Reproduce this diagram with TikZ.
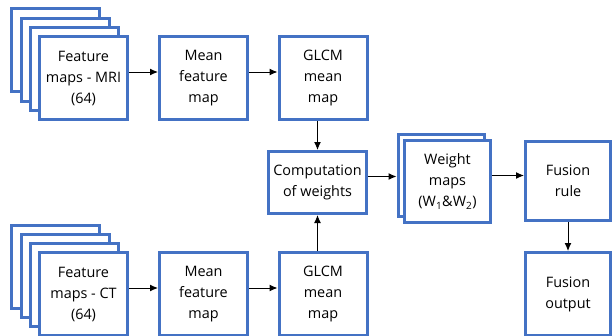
\documentclass[tikz,border=0pt]{standalone}
\usepackage{fontspec}
\setmainfont{Open Sans}
\usetikzlibrary{arrows.meta}
\definecolor{boxblue}{HTML}{4472C4}

\begin{document}
\begin{tikzpicture}[x=1pt, y=-1pt,
  box/.style={draw=boxblue, line width=3pt, fill=white, align=center, inner sep=0pt,
    font=\fontsize{14.4}{21}\selectfont},
  fmap/.style={box, minimum width=88pt, minimum height=83pt},
  arr/.style={-{Latex[length=8pt, width=7pt]}, line width=1pt}]
\useasboundingbox (0,0) rectangle (613,335);
\clip (0,0) rectangle (613,335);

\node[fmap] (mri3) at (55.5,50) {};
\node[fmap] (mri2) at (65,59.5) {};
\node[fmap] (mri1) at (74.5,69) {};
\node[fmap] (mri) at (83.5,78) {Feature\\maps - MRI\\(64)};
\node[fmap] (meanA) at (203.5,78) {Mean\\feature\\map};
\node[fmap] (glcmA) at (323,78) {GLCM\\mean\\map};

\node[box, minimum width=98pt, minimum height=62pt] (comp) at (317.5,182.5) {Computation\\of weights};
\node[box, minimum width=86pt, minimum height=82pt] (wback) at (441,175) {};
\node[box, minimum width=86pt, minimum height=82pt] (weight) at (447.5,181.5) {Weight\\maps\\(W\textsubscript{1}\&W\textsubscript{2})};
\node[box, minimum width=85pt, minimum height=79pt] (rule) at (568,181) {Fusion\\rule};
\node[box, minimum width=85pt, minimum height=83pt] (out) at (568,294) {Fusion\\output};

\node[fmap] (ct3) at (55.5,267) {};
\node[fmap] (ct2) at (65,276) {};
\node[fmap] (ct1) at (74.5,285) {};
\node[fmap] (ct) at (83.5,294) {Feature\\maps - CT\\(64)};
\node[fmap] (meanB) at (203.5,294) {Mean\\feature\\map};
\node[fmap] (glcmB) at (323,294) {GLCM\\mean\\map};

\draw[arr] ([yshift=6pt]mri.east) -- ([yshift=6pt]meanA.west);
\draw[arr] ([yshift=6pt]meanA.east) -- ([yshift=6pt]glcmA.west);
\draw[arr] ([yshift=6pt]ct.east) -- ([yshift=6pt]meanB.west);
\draw[arr] ([yshift=6pt]meanB.east) -- ([yshift=6pt]glcmB.west);
\draw[arr] (comp.north |- glcmA.south) -- (comp.north);
\draw[arr] (comp.south |- glcmB.north) -- (comp.south);
\draw[arr] ([yshift=6pt]comp.east) -- ([yshift=6pt]comp.east -| wback.west);
\draw[arr] ([yshift=6pt]weight.east) -- ([yshift=6pt]weight.east -| rule.west);
\draw[arr] (rule.south) -- (out.north);
\end{tikzpicture}
\end{document}
